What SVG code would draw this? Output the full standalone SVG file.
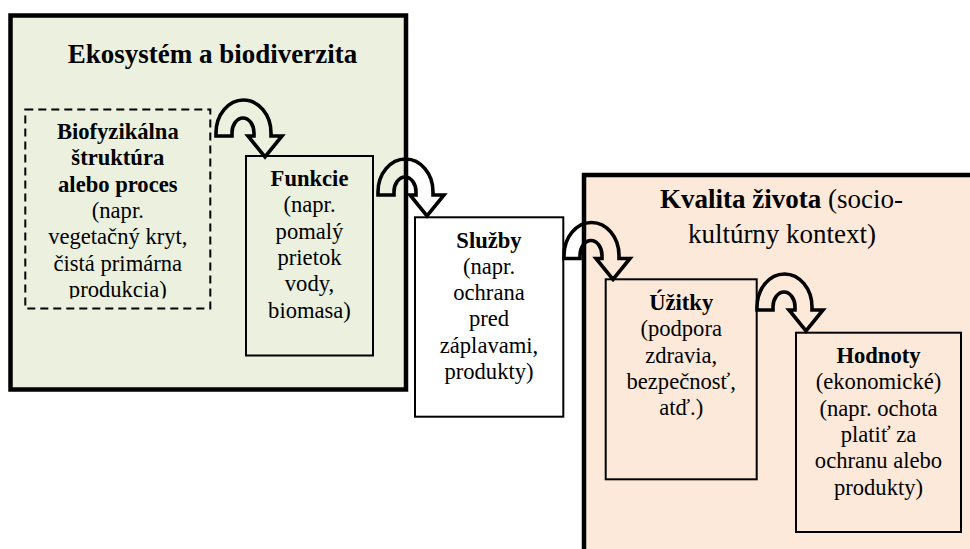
<svg xmlns="http://www.w3.org/2000/svg" width="970" height="549" viewBox="0 0 970 549">
<style>
text{font-family:"Liberation Serif","Times New Roman",serif;fill:#000;text-anchor:middle}
.t{font-size:27px}
.b{font-size:22.6px}
.bold{font-weight:bold}
.cont{stroke:#000;stroke-width:4.5}
.box{stroke:#000;stroke-width:2}
.dash{stroke-dasharray:8 5}
.arr{fill:none;stroke:#000;stroke-width:3.6;stroke-linejoin:miter}
</style>
<defs>
<path id="uarrow" d="M0 0V-3A27.5 33 0 0 1 55 -3V0H66L49 21L32 0H38V-3A11 15 0 0 0 16 -3V0Z"/>
<clipPath id="clipBio"><rect x="20" y="100" width="200" height="198.5"/></clipPath>
</defs>
<rect width="970" height="549" fill="#fff"/>
<g id="ekosystem">
<rect class="cont" x="10.5" y="15.5" width="395.5" height="374" fill="#ebf1de"/>
<text class="t bold" x="212.5" y="63">Ekosystém a biodiverzita</text>
</g>
<g id="kvalita">
<rect class="cont" x="584" y="175" width="420" height="420" fill="#fde9d9"/>
<text class="t" x="781.5" y="208"><tspan class="bold">Kvalita života</tspan> (socio-</text>
<text class="t" x="782" y="243">kultúrny kontext)</text>
</g>
<g id="biofyzikalna">
<rect class="box dash" x="25.3" y="109.5" width="185" height="199" fill="#ebf1de"/>
<g clip-path="url(#clipBio)">
<text class="b bold" x="117.8" y="139">Biofyzikálna</text>
<text class="b bold" x="117.8" y="165.3">štruktúra</text>
<text class="b bold" x="117.8" y="191.6">alebo proces</text>
<text class="b" x="117.8" y="217.9">(napr.</text>
<text class="b" x="117.8" y="244.2">vegetačný kryt,</text>
<text class="b" x="117.8" y="270.5">čistá primárna</text>
<text class="b" x="117.8" y="296.8">produkcia)</text>
</g>
</g>
<g id="funkcie">
<rect class="box" x="246" y="156" width="127" height="199.5" fill="#ebf1de"/>
<text class="b bold" x="309.5" y="186">Funkcie</text>
<text class="b" x="309.5" y="212.3">(napr.</text>
<text class="b" x="309.5" y="238.6">pomalý</text>
<text class="b" x="309.5" y="264.9">prietok</text>
<text class="b" x="309.5" y="291.2">vody,</text>
<text class="b" x="309.5" y="317.5">biomasa)</text>
</g>
<g id="sluzby">
<rect class="box" x="415" y="217.3" width="148.3" height="199.4" fill="#fff"/>
<text class="b bold" x="489" y="247.5">Služby</text>
<text class="b" x="489" y="273.8">(napr.</text>
<text class="b" x="489" y="300.1">ochrana</text>
<text class="b" x="489" y="326.4">pred</text>
<text class="b" x="489" y="352.7">záplavami,</text>
<text class="b" x="489" y="379">produkty)</text>
</g>
<g id="uzitky">
<rect class="box" x="605.7" y="279.3" width="151" height="200" fill="#fde9d9"/>
<text class="b bold" x="681.2" y="310">Úžitky</text>
<text class="b" x="681.2" y="336.3">(podpora</text>
<text class="b" x="681.2" y="362.6">zdravia,</text>
<text class="b" x="681.2" y="388.9">bezpečnosť,</text>
<text class="b" x="681.2" y="415.2">atď.)</text>
</g>
<g id="hodnoty">
<rect class="box" x="796" y="332.7" width="165" height="199.3" fill="#fde9d9"/>
<text class="b bold" x="878.5" y="363">Hodnoty</text>
<text class="b" x="878.5" y="389.3">(ekonomické)</text>
<text class="b" x="878.5" y="415.6">(napr. ochota</text>
<text class="b" x="878.5" y="441.9">platiť za</text>
<text class="b" x="878.5" y="468.2">ochranu alebo</text>
<text class="b" x="878.5" y="494.5">produkty)</text>
</g>
<g id="connectors">
<use href="#uarrow" class="arr" transform="translate(216 136)"/>
<use href="#uarrow" class="arr" transform="translate(378 195)"/>
<use href="#uarrow" class="arr" transform="translate(564 258.5)"/>
<use href="#uarrow" class="arr" transform="translate(757 310)"/>
</g>
</svg>
